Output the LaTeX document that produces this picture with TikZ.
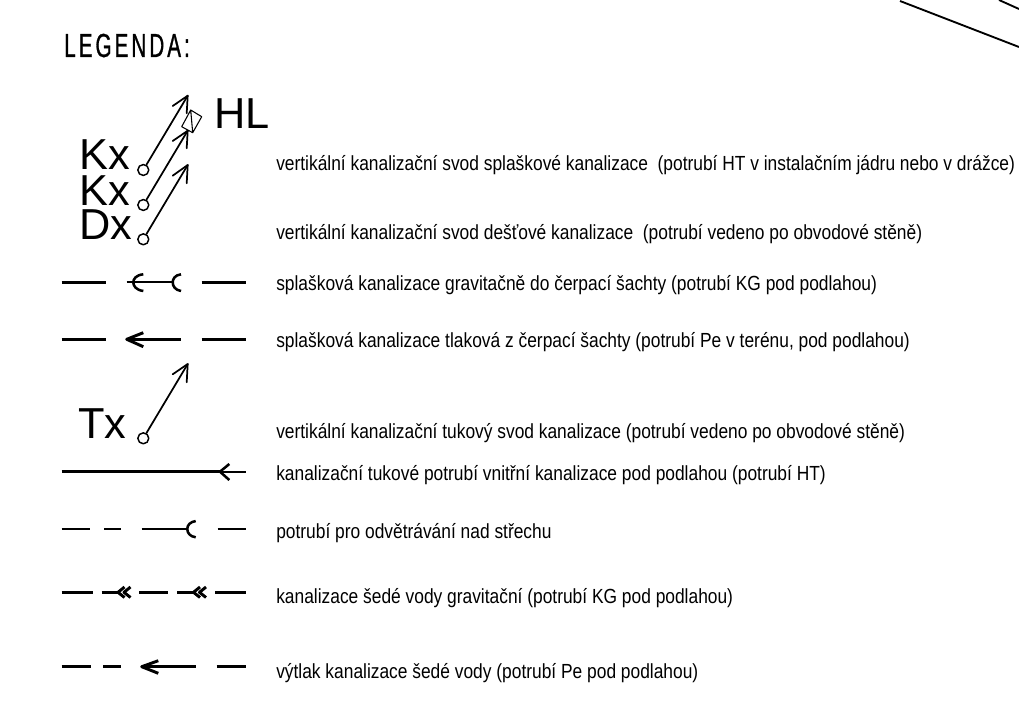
\documentclass[tikz,border=0pt]{standalone}
\usepackage{fontspec}
\setmainfont{Liberation Sans}
\newfontfamily\narrowfont[FakeStretch=0.85]{Liberation Sans}
\newfontfamily\titlefont[FakeStretch=0.62,LetterSpace=9,FakeBold=0.8]{Liberation Sans}
\begin{document}
\begin{tikzpicture}[x=0.75pt,y=-0.75pt,line join=round,
  desc/.style={anchor=base west,inner sep=0pt,font=\narrowfont\fontsize{15.33pt}{17pt}\selectfont,text=black},
  tag/.style={anchor=base west,inner sep=0pt,font=\fontsize{32.5pt}{34pt}\selectfont},
  thick line/.style={line width=2.2pt},
  mid line/.style={line width=1.9pt},
  thin line/.style={line width=1.4pt},
  hole/.style={circle,draw,line width=1.1pt,inner sep=0pt,minimum size=8.2pt,fill=white},
  vert/.style={line width=1.3pt,line cap=round}]
\useasboundingbox (0,0) rectangle (1019,720);
% corner lines
\draw[line width=1.4pt] (900,1) -- (1019,47);
\draw[line width=1.4pt] (999,0) -- (1019,9);
% title
\node[anchor=base west,inner sep=0pt,font=\titlefont\fontsize{25pt}{27pt}\selectfont] (title) at (64,57) {LEGENDA:};
% stack
\node[tag] (k1) at (79,170) {Kx};
\node[tag] (k2) at (79,205) {Kx};
\node[tag] (d1) at (79,239) {Dx};
\node[tag] (hl) at (214,128.5) {HL};
\node[tag] (tx) at (78,438) {Tx};
\node[hole] (c1) at (143.3,170) {};
\node[hole] (c2) at (143.3,205) {};
\node[hole] (c3) at (143.3,239.3) {};
\node[hole] (c4) at (143.3,438.3) {};
\coordinate (t1) at (187.7,95.7);
\coordinate (t2) at (187.7,130.7);
\coordinate (t3) at (187.7,165);
\coordinate (t4) at (187.7,364);
\draw[vert] (c1) -- (t1);
\draw[vert] (c2) -- (t2);
\draw[vert] (c3) -- (t3);
\draw[vert] (c4) -- (t4);
\draw[vert] (172.7,106) -- (t1) -- (186.7,113.3);
\draw[vert] (172.7,141) -- (t2) -- (186.7,148.3);
\draw[vert] (172.7,175.7) -- (t3) -- (186.7,183.3);
\draw[vert] (172.7,374.3) -- (t4) -- (186.7,382.3);
\draw[line width=.8pt] (190.7,110) -- (201.7,116.7) -- (192.7,132.7) -- (181.7,126.7) -- cycle (190.7,110) -- (192.7,132.7);
% row 3
\draw[thick line] (61.7,282.3) -- (105.7,282.3) (201.7,282.3) -- (246,282.3);
\draw[thin line] (126.7,282.3) -- (172.7,282.3);
\draw[mid line] (143.3,274.3) .. controls (136,275) and (133.3,279) .. (133.3,282.3) .. controls (133.3,286) and (136,290) .. (143.3,291);
\draw[mid line] (181,274.3) .. controls (175,275) and (172.7,279) .. (172.7,282.3) .. controls (172.7,286) and (175,290) .. (181,291);
% row 4
\draw[thick line] (61.7,339.3) -- (105.7,339.3) (201.7,339.3) -- (246,339.3);
\draw[mid line] (126.7,339.3) -- (181,339.3);
\draw[thick line] (143.3,332.7) -- (126.7,339.3) -- (143.3,346.7);
% row 6
\draw[thick line] (61.7,471.7) -- (220,471.7);
\draw[thin line] (220,471.7) -- (246,471.7);
\draw[mid line] (229.3,464) -- (220,471.7) -- (229.3,480);
% row 7
\draw[thin line] (61.7,529) -- (90,529) (104.3,529) -- (120.7,529) (141.7,529) -- (187.3,529) (217.7,529) -- (246,529);
\draw[mid line] (195.7,521) .. controls (190,522) and (187.3,525) .. (187.3,529) .. controls (187.3,533) and (190,536.5) .. (195.7,537.3);
% row 8
\draw[thick line] (61.7,592.3) -- (92.7,592.3) (139.3,592.3) -- (168.3,592.3) (215,592.3) -- (246,592.3);
\draw[mid line] (101.7,592.3) -- (118,592.3) (177.3,592.3) -- (193.3,592.3);
\draw[thick line] (124.5,587) -- (118,592.3) -- (124.5,597.5) (130.5,587) -- (124,592.3) -- (130.5,597.5);
\draw[thick line] (200,587) -- (193.5,592.3) -- (200,597.5) (206,587) -- (199.5,592.3) -- (206,597.5);
% row 9
\draw[thick line] (61.7,666.7) -- (90.7,666.7) (103.3,666.7) -- (120.7,666.7) (216.7,666.7) -- (246,666.7);
\draw[mid line] (141.7,666.7) -- (196,666.7);
\draw[thick line] (158.3,660.7) -- (141.7,666.7) -- (158.3,673.3);
% descriptions
\node[desc] (l1) at (276,170.5) {vertikální kanalizační svod splaškové kanalizace\ \ (potrubí HT v instalačním jádru nebo v drážce)};
\node[desc] (l2) at (276,239.5) {vertikální kanalizační svod dešťové kanalizace\ \ (potrubí vedeno po obvodové stěně)};
\node[desc] (l3) at (276,290) {splašková kanalizace gravitačně do čerpací šachty (potrubí KG pod podlahou)};
\node[desc] (l4) at (276,347) {splašková kanalizace tlaková z čerpací šachty (potrubí Pe v terénu, pod podlahou)};
\node[desc] (l5) at (276,438) {vertikální kanalizační tukový svod kanalizace (potrubí vedeno po obvodové stěně)};
\node[desc] (l6) at (276,480) {kanalizační tukové potrubí vnitřní kanalizace pod podlahou (potrubí HT)};
\node[desc] (l7) at (276,538) {potrubí pro odvětrávání nad střechu};
\node[desc] (l8) at (276,603) {kanalizace šedé vody gravitační (potrubí KG pod podlahou)};
\node[desc] (l9) at (276,678) {výtlak kanalizace šedé vody (potrubí Pe pod podlahou)};
\end{tikzpicture}
\end{document}
